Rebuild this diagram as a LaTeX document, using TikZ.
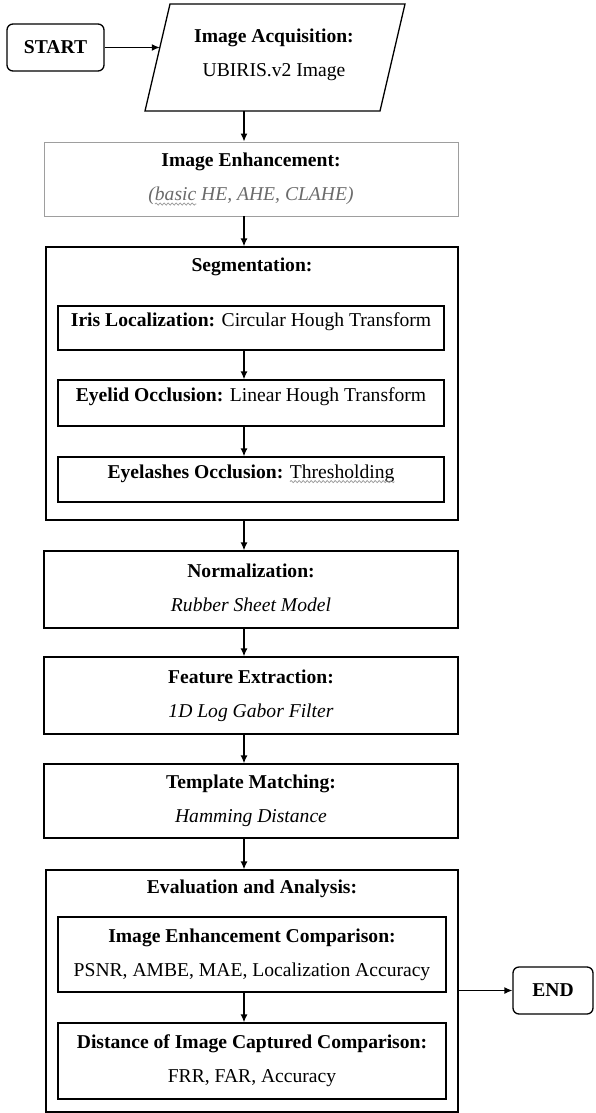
\documentclass[tikz,border=0pt]{standalone}
\usepackage{fontspec}
\setmainfont{Liberation Serif}
\usetikzlibrary{arrows.meta,decorations.pathmorphing}
\definecolor{txtgray}{gray}{0.42}
\definecolor{bordergray}{gray}{0.62}
\definecolor{wavegray}{gray}{0.6}
\newcommand{\graywave}[2]{\tikz[baseline=(wv.base), x=1pt, y=1pt]{\node[inner sep=0pt, outer sep=0pt, draw=none, fill=none, minimum width=0pt, minimum height=0pt, text height={}, text depth={}, align=none, rectangle, rounded corners=0pt, text=#1] (wv) {#2};
  \draw[overlay, wavegray, line width=0.7pt, decorate, decoration={snake, amplitude=1.1pt, segment length=4pt}] ([yshift=-3.5pt]wv.base west) -- ([yshift=-3.5pt]wv.base east);}}
\newcommand{\mytwo}[2]{\rule{0pt}{13.5pt}#1\\#2\rule[-4.5pt]{0pt}{4.5pt}}
\begin{document}
\begin{tikzpicture}[x=1pt,y=-1pt,
  every node/.style={font=\fontsize{19.6}{34}\selectfont, inner sep=0pt},
  boxline/.style={draw, line width=1.3pt},
  box/.style={boxline, rectangle, align=center},
  innerbox/.style={boxline, rectangle, minimum width=386pt, text height=13.5pt, text depth=16.3pt},
  startend/.style={boxline, rectangle, rounded corners=6pt},
  titletext/.style={text height=13.5pt, text depth=4.5pt},
  arr/.style={-{Latex[length=8pt,width=7pt]}, line width=1.3pt}]
\fill[white] (0,0) rectangle (595,1113);
\useasboundingbox (0,0) rectangle (595,1113);
\coordinate (spine) at (244,0);
% start
\node[startend, minimum width=97pt, minimum height=47pt] (start) at (55.5,47.5) {\textbf{START}};
% acquisition parallelogram
\draw[boxline] (170,4) -- (405,4) -- (380,111) -- (145,111) -- cycle;
\coordinate (acqL) at (159.8,47.5);
\coordinate (acqB) at (244,111);
\node[align=center] (acq) at (274,55) {\mytwo{\textbf{Image Acquisition:}}{UBIRIS.v2 Image}};
% enhancement
\node[box, draw=bordergray, line width=0.9pt, minimum width=414pt, minimum height=74pt] (enh) at (251,179)
  {\mytwo{\textbf{Image Enhancement:}}{\textcolor{txtgray}{\textit{(\graywave{txtgray}{basic} HE, AHE, CLAHE)}}}};
% segmentation
\node[box, minimum width=412pt, minimum height=273pt] (seg) at (252,383.5) {};
\node[titletext] (segT) at (252,267) {\textbf{Segmentation:}};
\node[innerbox, minimum height=44pt] (iris) at (251,328) {\textbf{Iris Localization:} Circular Hough Transform};
\node[innerbox, minimum height=46pt] (lid) at (251,403) {\textbf{Eyelid Occlusion:} Linear Hough Transform};
\node[innerbox, minimum height=45pt] (lash) at (251,479.5) {\textbf{Eyelashes Occlusion:} \graywave{black}{Thresholding}};
% normalization etc.
\node[box, minimum width=414pt, minimum height=77pt] (norm) at (251,589.5) {\mytwo{\textbf{Normalization:}}{\textit{Rubber Sheet Model}}};
\node[box, minimum width=414pt, minimum height=77pt] (feat) at (251,695.5) {\mytwo{\textbf{Feature Extraction:}}{\textit{1D Log Gabor Filter}}};
\node[box, minimum width=414pt, minimum height=74pt] (tmpl) at (251,801) {\mytwo{\textbf{Template Matching:}}{\textit{Hamming Distance}}};
% evaluation
\node[box, minimum width=412pt, minimum height=242pt] (eval) at (252,991) {};
\node[titletext] (evalT) at (252,889) {\textbf{Evaluation and Analysis:}};
\node[box, minimum width=388pt, minimum height=75pt] (iec) at (252,954.5) {\mytwo{\textbf{Image Enhancement Comparison:}}{PSNR, AMBE, MAE, Localization Accuracy}};
\node[box, minimum width=388pt, minimum height=76pt] (dist) at (252,1061) {\mytwo{\textbf{Distance of Image Captured Comparison:}}{FRR, FAR, Accuracy}};
% end
\node[startend, minimum width=80pt, minimum height=47pt] (end) at (553,990.5) {\textbf{END}};
% connectors
\draw[arr] (start.east) -- (acqL);
\draw[arr] (acqB) -- (acqB |- enh.north);
\draw[arr] (enh.south -| spine) -- (seg.north -| spine);
\draw[arr] (iris.south -| spine) -- (lid.north -| spine);
\draw[arr] (lid.south -| spine) -- (lash.north -| spine);
\draw[arr] (seg.south -| spine) -- (norm.north -| spine);
\draw[arr] (norm.south -| spine) -- (feat.north -| spine);
\draw[arr] (feat.south -| spine) -- (tmpl.north -| spine);
\draw[arr] (tmpl.south -| spine) -- (eval.north -| spine);
\draw[arr] (iec.south -| spine) -- (dist.north -| spine);
\draw[arr] (eval.east |- end.west) -- (end.west);
\end{tikzpicture}
\end{document}
